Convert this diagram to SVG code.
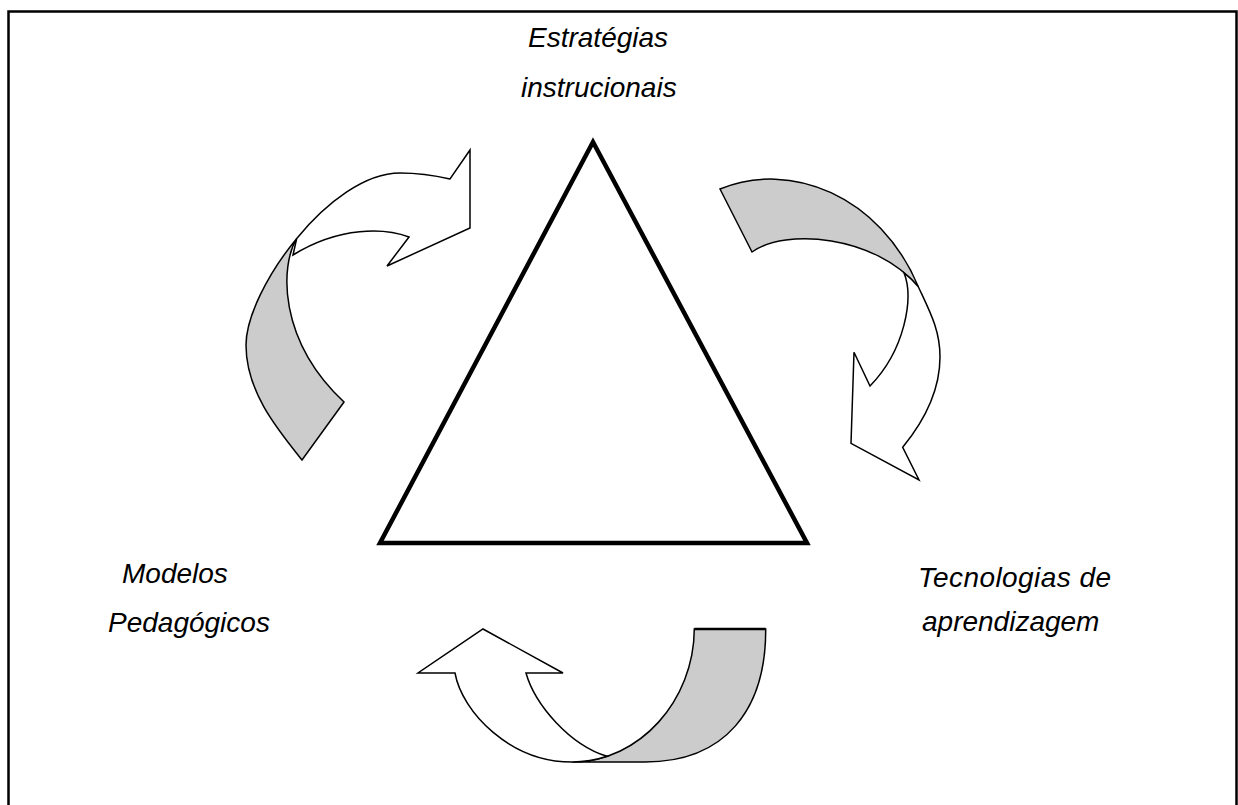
<svg xmlns="http://www.w3.org/2000/svg" width="1238" height="805" viewBox="0 0 1238 805">
<style>
  .lbl { font-family: "Liberation Sans", Arial, sans-serif; font-style: italic; font-size: 28px; fill: #000; }
  .back { fill: #cccccc; stroke: #000; stroke-width: 1.5; stroke-linejoin: miter; }
  .front { fill: #ffffff; stroke: #000; stroke-width: 1.5; stroke-linejoin: miter; }
</style>
<rect x="0" y="0" width="1238" height="805" fill="#ffffff"/>
<rect id="frame" x="8.5" y="11.5" width="1228" height="810" fill="none" stroke="#000" stroke-width="2.5"/>

<g id="triangle">
  <polygon points="593,142 807,543 380,543" fill="#ffffff" stroke="#000" stroke-width="4.5" stroke-linejoin="miter"/>
</g>

<g id="label-estrategias">
  <text class="lbl" x="528" y="47">Estratégias</text>
  <text class="lbl" x="521" y="97">instrucionais</text>
</g>
<g id="label-modelos">
  <text class="lbl" x="122" y="583">Modelos</text>
  <text class="lbl" x="108" y="632">Pedagógicos</text>
</g>
<g id="label-tecnologias">
  <text class="lbl" x="918" y="587" textLength="193">Tecnologias de</text>
  <text class="lbl" x="922" y="631">aprendizagem</text>
</g>

<g id="connectors">
  <g id="arrow-left">
    <path class="back" d="M302,460 C278,430 246,392 246,345 C246,317.5 267,274.5 296.75,238.4 C280,266 278,340 344,402 Z"/>
    <path class="front" d="M296.75,238.4 C326.5,202.25 365,173 400,173 C420,173 437,176 450,179 L470,150 L470,228 L387,266 L409,237 C385,228 340,226 293,255 L296.75,238.4 Z"/>
  </g>
  <g id="arrow-right">
    <path class="back" d="M720,189 C790,160 880,195 918.3,286.7 C875,235 785,228 752,252 Z"/>
    <path class="front" d="M904,272.8 C909.2,276.8 914,281.5 918.3,286.7 C930,312 940,330 940,357 C940,390 925,420 902.7,447.3 L919,480 L851,443.3 L854,352.3 L870,386 C905,350 914,298 904,272.8 Z"/>
  </g>
  <g id="arrow-bottom">
    <path class="back" d="M694.3,629 L765.7,629 C766,710 725,762 645,762 L572,762 C640,762 694,700 694.3,629 Z"/>
    <line x1="694.3" y1="629" x2="765.7" y2="629" stroke="#000" stroke-width="2.5"/>
    <path class="front" d="M455,673 L418,673 L483,629 L563,673 L526,673 C535,705 570,745 607.1,756.3 C596,760 584.2,762 572,762 C510,762 462,712 455,673 Z"/>
  </g>
</g>
</svg>
